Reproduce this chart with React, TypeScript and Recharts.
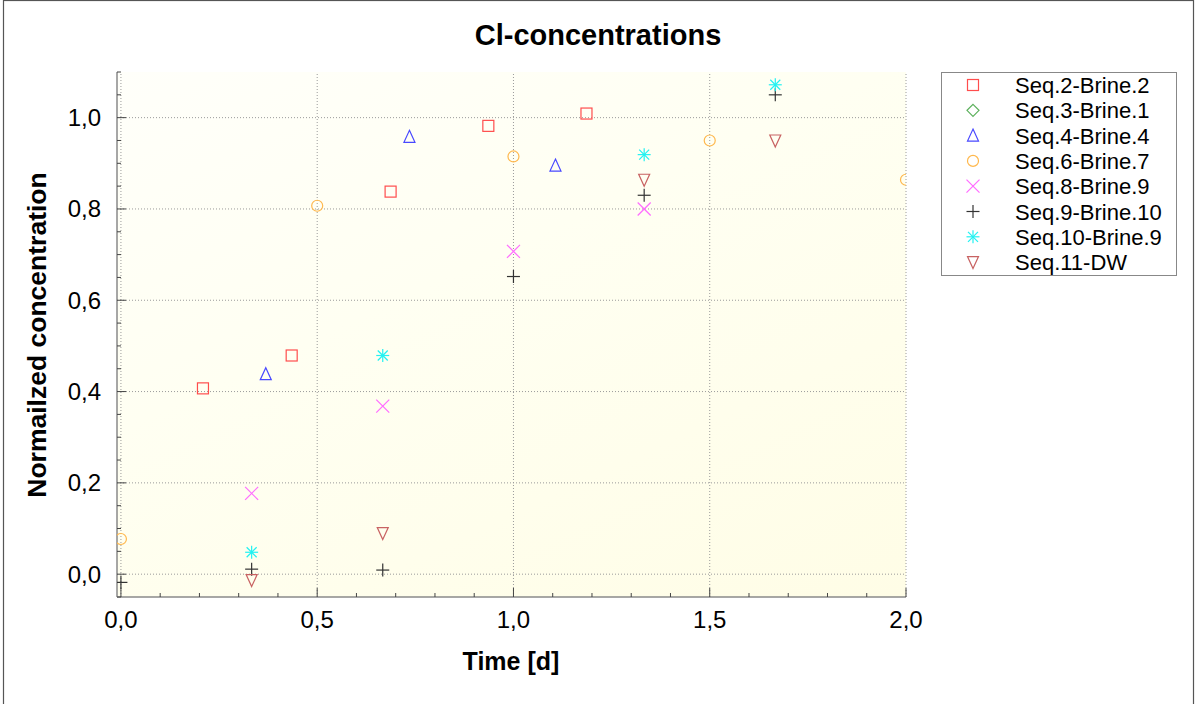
import React from 'react';
import { ScatterChart, Scatter, XAxis, YAxis, ReferenceLine } from 'recharts';

// Time [d] and normalized Cl concentration of each sequence
const seq2Time = [0.209, 0.435, 0.687, 0.936, 1.186];
const seq2Conc = [0.407, 0.479, 0.838, 0.982, 1.009];
const seq3Time: number[] = [];
const seq3Conc: number[] = [];
const seq4Time = [0.369, 0.735, 1.107];
const seq4Conc = [0.438, 0.958, 0.895];
const seq6Time = [0.0, 0.5, 1.0, 1.5, 2.0];
const seq6Conc = [0.077, 0.807, 0.915, 0.95, 0.864];
const seq8Time = [0.333, 0.667, 1.0, 1.333];
const seq8Conc = [0.177, 0.368, 0.707, 0.8];
const seq9Time = [0.0, 0.333, 0.667, 1.0, 1.333, 1.667];
const seq9Conc = [-0.018, 0.011, 0.009, 0.652, 0.83, 1.05];
const seq10Time = [0.333, 0.667, 1.333, 1.667];
const seq10Conc = [0.048, 0.479, 0.919, 1.072];
const seq11Time = [0.333, 0.667, 1.333, 1.667];
const seq11Conc = [-0.013, 0.09, 0.864, 0.95];

const xMajorTicks = [0, 0.5, 1.0, 1.5, 2.0];
const xTickLabels = ['0,0', '0,5', '1,0', '1,5', '2,0'];
const yMajorTicks = [0, 0.2, 0.4, 0.6, 0.8, 1.0];
const yTickLabels = ['0,0', '0,2', '0,4', '0,6', '0,8', '1,0'];

const X_DOMAIN: [number, number] = [-0.01, 2.0];
const Y_DOMAIN: [number, number] = [-0.05, 1.1];
const xTicks = Array.from({ length: 21 }, (_, i) => +(i * 0.1).toFixed(2));
const yTicks = Array.from({ length: 24 }, (_, i) => +(-0.05 + i * 0.05).toFixed(2));

type Kind = 'square' | 'diamond' | 'triangle' | 'circle' | 'cross' | 'plus' | 'star' | 'triangleDown';

const zip = (t: number[], c: number[]) => t.map((v, i) => ({ t: v, c: c[i] }));

const series: { name: string; kind: Kind; color: string; data: { t: number; c: number }[] }[] = [
  { name: 'Seq.2-Brine.2', kind: 'square', color: '#ff4d4d', data: zip(seq2Time, seq2Conc) },
  { name: 'Seq.3-Brine.1', kind: 'diamond', color: '#5cb05c', data: zip(seq3Time, seq3Conc) },
  { name: 'Seq.4-Brine.4', kind: 'triangle', color: '#4848ff', data: zip(seq4Time, seq4Conc) },
  { name: 'Seq.6-Brine.7', kind: 'circle', color: '#ffb84d', data: zip(seq6Time, seq6Conc) },
  { name: 'Seq.8-Brine.9', kind: 'cross', color: '#ff6cff', data: zip(seq8Time, seq8Conc) },
  { name: 'Seq.9-Brine.10', kind: 'plus', color: '#333333', data: zip(seq9Time, seq9Conc) },
  { name: 'Seq.10-Brine.9', kind: 'star', color: '#22f2f2', data: zip(seq10Time, seq10Conc) },
  { name: 'Seq.11-DW', kind: 'triangleDown', color: '#c86262', data: zip(seq11Time, seq11Conc) },
];

const W = 1195;
const H = 704;
const PLOT = { left: 117, top: 72, right: 906, bottom: 597 };
const FONT = '"Liberation Sans", Arial, sans-serif';

function Marker({ kind, cx, cy, color }: { kind: Kind; cx: number; cy: number; color: string }) {
  const s = { fill: 'none', stroke: color, strokeWidth: 1.2 };
  switch (kind) {
    case 'square':
      return <rect x={cx - 5.5} y={cy - 5.5} width={11} height={11} {...s} />;
    case 'diamond':
      return <polygon points={`${cx},${cy - 6} ${cx + 6},${cy} ${cx},${cy + 6} ${cx - 6},${cy}`} {...s} />;
    case 'triangle':
      return <polygon points={`${cx},${cy - 6.5} ${cx + 5.5},${cy + 5.5} ${cx - 5.5},${cy + 5.5}`} {...s} />;
    case 'triangleDown':
      return <polygon points={`${cx},${cy + 6.5} ${cx + 5.5},${cy - 5.5} ${cx - 5.5},${cy - 5.5}`} {...s} />;
    case 'circle':
      return <circle cx={cx} cy={cy} r={5.5} {...s} />;
    case 'cross':
      return (
        <g {...s}>
          <line x1={cx - 6.5} y1={cy - 6.5} x2={cx + 6.5} y2={cy + 6.5} />
          <line x1={cx - 6.5} y1={cy + 6.5} x2={cx + 6.5} y2={cy - 6.5} />
        </g>
      );
    case 'plus':
      return (
        <g {...s}>
          <line x1={cx - 6.5} y1={cy} x2={cx + 6.5} y2={cy} />
          <line x1={cx} y1={cy - 6.5} x2={cx} y2={cy + 6.5} />
        </g>
      );
    case 'star':
      return (
        <g {...s}>
          <line x1={cx - 6.5} y1={cy} x2={cx + 6.5} y2={cy} />
          <line x1={cx} y1={cy - 6.5} x2={cx} y2={cy + 6.5} />
          <line x1={cx - 5} y1={cy - 5} x2={cx + 5} y2={cy + 5} />
          <line x1={cx - 5} y1={cy + 5} x2={cx + 5} y2={cy - 5} />
        </g>
      );
  }
  return null;
}

const near = (a: number, b: number) => Math.abs(a - b) < 1e-6;
const isMultiple = (v: number, step: number) => near(v / step, Math.round(v / step));
const TICK = '#444';

const BottomTick = (props: any) => {
  const { payload } = props;
  const x = payload.coordinate;
  const major = isMultiple(payload.value, 0.5);
  const idx = xMajorTicks.findIndex((t) => near(t, payload.value));
  return (
    <g>
      <line x1={x} x2={x} y1={PLOT.bottom} y2={PLOT.bottom - (major ? 9 : 4)} stroke={TICK} />
      {idx >= 0 && (
        <text x={x} y={628} textAnchor="middle" fontSize={24} fill="#000" fontFamily={FONT}>
          {xTickLabels[idx]}
        </text>
      )}
    </g>
  );
};

const TopTick = (props: any) => {
  const { payload } = props;
  const x = payload.coordinate;
  const major = isMultiple(payload.value, 0.5);
  return <line x1={x} x2={x} y1={PLOT.top} y2={PLOT.top + (major ? 9 : 4)} stroke={TICK} />;
};

const LeftTick = (props: any) => {
  const { payload } = props;
  const y = payload.coordinate;
  const major = isMultiple(payload.value, 0.2);
  const idx = yMajorTicks.findIndex((t) => near(t, payload.value));
  return (
    <g>
      <line x1={PLOT.left} x2={PLOT.left + (major ? 9 : 4)} y1={y} y2={y} stroke={TICK} />
      {idx >= 0 && (
        <text x={101} y={y + 8.5} textAnchor="end" fontSize={24} fill="#000" fontFamily={FONT}>
          {yTickLabels[idx]}
        </text>
      )}
    </g>
  );
};

const RightTick = (props: any) => {
  const { payload } = props;
  const y = payload.coordinate;
  const major = isMultiple(payload.value, 0.2);
  return <line x1={PLOT.right} x2={PLOT.right - (major ? 9 : 4)} y1={y} y2={y} stroke={TICK} />;
};

const axisLine = { stroke: '#8a8a8a', strokeWidth: 1.5 };
const grid = { stroke: '#9a9a9a', strokeDasharray: '1 2', strokeWidth: 1 };

export default function App() {
  return (
    <div style={{ position: 'absolute', left: 0, top: 0, width: W, height: H, background: '#fff', fontFamily: FONT }}>
      {/* plot background */}
      <div
        style={{
          position: 'absolute',
          left: PLOT.left,
          top: PLOT.top,
          width: PLOT.right - PLOT.left,
          height: PLOT.bottom - PLOT.top,
          background: 'linear-gradient(155deg, #fffffa 0%, #fffff2 40%, #fffde6 100%)',
        }}
      />
      <div style={{ position: 'absolute', left: 0, top: 0 }}>
        <ScatterChart width={W} height={H} margin={{ top: PLOT.top, right: W - PLOT.right, bottom: 0, left: 0 }}>
          <XAxis
            xAxisId="b"
            type="number"
            dataKey="t"
            domain={X_DOMAIN}
            allowDataOverflow
            ticks={xTicks}
            interval={0}
            tick={<BottomTick />}
            tickLine={false}
            axisLine={axisLine}
            height={H - PLOT.bottom}
          />
          <XAxis
            xAxisId="t"
            orientation="top"
            type="number"
            dataKey="t"
            domain={X_DOMAIN}
            allowDataOverflow
            ticks={xTicks}
            interval={0}
            tick={<TopTick />}
            tickLine={false}
            axisLine={{ stroke: '#555', strokeWidth: 1 }}
            height={0}
          />
          <YAxis
            yAxisId="l"
            type="number"
            dataKey="c"
            domain={Y_DOMAIN}
            allowDataOverflow
            ticks={yTicks}
            interval={0}
            tick={<LeftTick />}
            tickLine={false}
            axisLine={axisLine}
            width={PLOT.left}
          />
          <YAxis
            yAxisId="r"
            orientation="right"
            type="number"
            dataKey="c"
            domain={Y_DOMAIN}
            allowDataOverflow
            ticks={yTicks}
            interval={0}
            tick={<RightTick />}
            tickLine={false}
            axisLine={axisLine}
            width={0}
          />
          {xMajorTicks.map((v) => (
            <ReferenceLine key={'gx' + v} x={v} xAxisId="b" yAxisId="l" {...grid} />
          ))}
          {yMajorTicks.map((v) => (
            <ReferenceLine key={'gy' + v} y={v} xAxisId="b" yAxisId="l" {...grid} />
          ))}
          {series.map((s) => (
            <Scatter
              key={s.name}
              name={s.name}
              data={s.data}
              xAxisId="b"
              yAxisId="l"
              isAnimationActive={false}
              shape={(p: any) => <Marker kind={s.kind} cx={p.cx} cy={p.cy} color={s.color} />}
            />
          ))}
        </ScatterChart>
      </div>
      {/* title, axis titles, legend and outer frame */}
      <svg
        width={W}
        height={H}
        style={{ position: 'absolute', left: 0, top: 0, pointerEvents: 'none' }}
        fontFamily={FONT}
      >
        <rect x={3.5} y={0.5} width={1190} height={H + 10} fill="none" stroke="#555" strokeWidth={1.2} />
        <text x={598} y={45} textAnchor="middle" fontSize={29} fontWeight="bold" fill="#000">
          Cl-concentrations
        </text>
        <text x={511} y={670} textAnchor="middle" fontSize={25} fontWeight="bold" fill="#000">
          Time [d]
        </text>
        <text
          x={0}
          y={0}
          transform="translate(46,335) rotate(-90)"
          textAnchor="middle"
          fontSize={26.5}
          fontWeight="bold"
          fill="#000"
        >
          Normailzed concentration
        </text>
        <rect x={941.5} y={72.5} width={235} height={203} fill="#fff" stroke="#888" strokeWidth={1} />
        {series.map((s, i) => {
          const cy = 85 + i * 25.3;
          return (
            <g key={'lg' + s.name}>
              <Marker kind={s.kind} cx={973} cy={cy} color={s.color} />
              <text x={1015} y={cy + 8} fontSize={22} fill="#000">
                {s.name}
              </text>
            </g>
          );
        })}
      </svg>
    </div>
  );
}
